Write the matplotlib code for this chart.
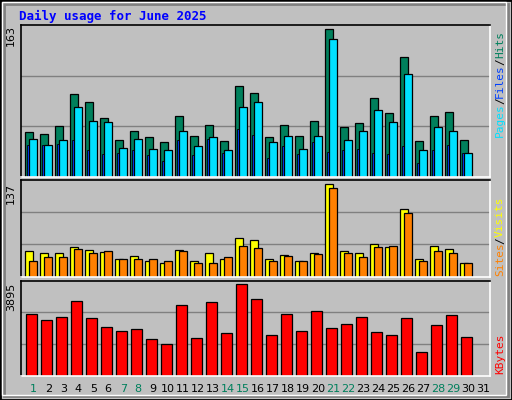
import matplotlib
matplotlib.use("Agg")
import matplotlib.pyplot as plt
from matplotlib.patches import Rectangle
import numpy as np

days = list(range(1, 32))
hits_t = [394,403,379,283,304,355,418,391,412,427,349,409,376,421,259,277,412,376,409,361,88,382,370,295,340,169,424,349,334,418]
files_t = [415,436,418,322,361,367,442,415,445,448,391,439,412,451,322,304,427,409,445,409,118,418,391,328,364,220,451,382,391,460]
pages_t = [436,436,433,418,451,463,460,448,466,484,418,466,415,460,385,406,472,439,463,427,457,448,445,460,463,439,490,451,436,460]
hits = [round((530 - t) * 163 / 442) for t in hits_t]
files = [round((530 - t) * 163 / 442) for t in files_t]
pages = [round((530 - t) * 163 / 442) for t in pages_t]
sites_t = [229,235,235,217,226,232,250,244,256,262,226,256,235,250,187,193,253,241,259,235,28,229,235,208,217,100,253,214,223,262]
visits_t = [256,247,247,223,235,229,253,253,253,256,229,262,262,247,211,220,256,244,256,238,40,235,247,217,211,112,256,229,235,265]
sites = [round((305 - t) * 137 / 277) for t in sites_t]
visits = [round((305 - t) * 137 / 277) for t in visits_t]
kb_t = [418,436,427,379,430,457,469,463,493,508,391,490,382,475,328,373,481,418,469,409,460,448,427,472,481,430,532,451,421,487]
kbytes = [round((602 - t) * 3895 / 274) for t in kb_t]
weekend = [1, 7, 8, 14, 15, 21, 22, 28, 29]

W, H = 512, 400
fig = plt.figure(figsize=(W / 100, H / 100), dpi=100)
fig.patch.set_facecolor("#C0C0C0")
fig.add_artist(Rectangle((0, 0), 1, 1, transform=fig.transFigure, fill=False, ec="black", lw=2))
fig.add_artist(Rectangle((4 / W, 4 / H), (W - 8) / W, (H - 8) / H, transform=fig.transFigure, fill=False, ec="#808080", lw=2))
fig.add_artist(Rectangle((2 / W, 5 / H), (W - 8) / W, (H - 7) / H, transform=fig.transFigure, fill=False, ec="white", lw=1))

mono = "DejaVu Sans Mono"
fig.text(19 / W, 1 - 16 / H, "Daily usage for June 2025", color="#0000FF", fontsize=9,
         fontweight="bold", family=mono, va="center")

x0, x1 = 20.7, 490
def mkax(ytop, ybot):
    ax = fig.add_axes([x0 / W, 1 - ybot / H, (x1 - x0) / W, (ybot - ytop) / H])
    ax.set_facecolor("#C0C0C0")
    ax.set_xlim(0.7, 0.7 + (x1 - x0) / 15)
    for s in ["left", "top"]:
        ax.spines[s].set_color("black")
    for s in ["right", "bottom"]:
        ax.spines[s].set_color("white")
    for sp in ax.spines.values():
        sp.set_linewidth(1.2)
    ax.set_xticks([]); ax.set_yticks([])
    return ax

d = np.array(days[:30])
bk = dict(edgecolor="black", linewidth=0.9, align="edge")

ax1 = mkax(25.3, 176.7)
top1 = 163 * (176.7 - 25.3) / 147.3
ax1.set_ylim(0, top1)
for g in (top1 / 3, 2 * top1 / 3):
    ax1.axhline(g, color="#808080", lw=1, zorder=0)
ax1.bar(d, hits, width=0.49, color="#00805C", **bk)
ax1.bar(d + 0.09, pages, width=0.2, color="#0040FF", edgecolor="black", linewidth=0.6, align="edge")
ax1.bar(d + 0.27, files, width=0.49, color="#00E0FF", **bk)

ax2 = mkax(180, 276.7)
top2 = 137 * 96.7 / ((305 - 28) / 3)
ax2.set_ylim(0, top2)
for g in (top2 / 3, 2 * top2 / 3):
    ax2.axhline(g, color="#808080", lw=1, zorder=0)
ax2.bar(d, sites, width=0.49, color="#FFFF00", **bk)
ax2.bar(d + 0.27, visits, width=0.49, color="#FF8000", **bk)

ax3 = mkax(280.7, 375.7)
top3 = 3895 * 95 / ((602 - 328) / 3)
ax3.set_ylim(0, top3)
for g in (top3 / 3, 2 * top3 / 3):
    ax3.axhline(g, color="#808080", lw=1, zorder=0)
ax3.bar(d + 0.07, kbytes, width=0.69, color="#FF0000", **bk)

fig.text(11 / W, 1 - 36 / H, "163", rotation=90, fontsize=8, family="DejaVu Sans", ha="center", va="center")
fig.text(11 / W, 1 - 193 / H, "137", rotation=90, fontsize=8, family="DejaVu Sans", ha="center", va="center")
fig.text(11 / W, 1 - 297 / H, "3895", rotation=90, fontsize=8, family="DejaVu Sans", ha="center", va="center")

def vlabel(parts, ybottom):
    y = ybottom
    for txt, col in parts:
        fig.text(500 / W, y / H, txt, rotation=90, color=col, fontsize=8, family=mono,
                 ha="center", va="bottom")
        y += len(txt) * 6.4 + 0.5
vlabel([("Pages", "#00E0FF"), ("/", "#000000"), ("Files", "#0040FF"), ("/", "#000000"), ("Hits", "#00805C")], 400 - 137)
vlabel([("Sites", "#FF8000"), ("/", "#000000"), ("Visits", "#FFFF00")], 400 - 276)
vlabel([("KBytes", "#FF0000")], 400 - 374)

for i in days:
    xp = x0 + (i - 0.7) * 15 + 8
    fig.text(xp / W, 1 - 389 / H, str(i), fontsize=8, family="DejaVu Sans", ha="center", va="center",
             color="#00805C" if i in weekend else "black")

fig.savefig("out.png", dpi=100, facecolor=fig.get_facecolor())
